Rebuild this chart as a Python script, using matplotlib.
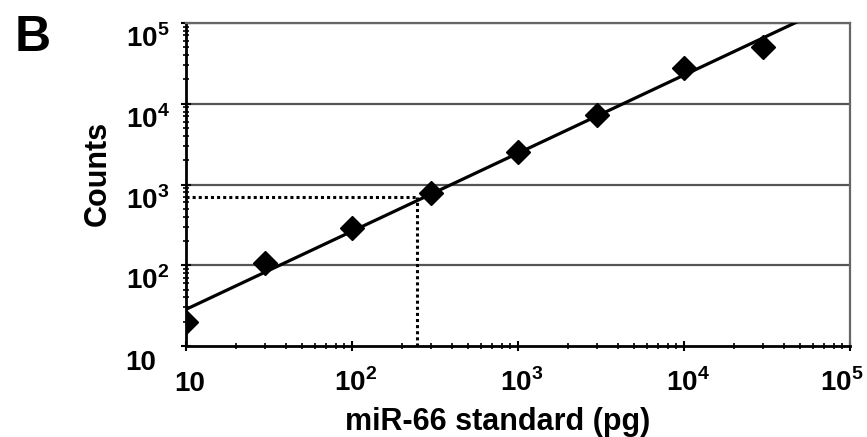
import numpy as np
import matplotlib.pyplot as plt
import matplotlib.transforms as mtransforms
from matplotlib.ticker import LogLocator, NullFormatter

plt.rcParams['font.family'] = ['Liberation Sans', 'DejaVu Sans']
plt.rcParams['font.weight'] = 'bold'
plt.rcParams['mathtext.fontset'] = 'custom'
plt.rcParams['mathtext.rm'] = 'Liberation Sans:bold'
plt.rcParams['mathtext.bf'] = 'Liberation Sans:bold'

# standard curve (pg vs counts)
standard_pg = [10, 30, 100, 300, 1000, 3000, 10000, 30000]
counts = [20, 107, 290, 780, 2520, 7200, 27500, 50000]

# unknown sample
sample_pg = 245
sample_counts = 700

tick_vals = [10, 100, 1000, 10000, 100000]
tick_labels = ['10', r'$10^{2}$', r'$10^{3}$', r'$10^{4}$', r'$10^{5}$']

# log-log linear fit
slope, icpt = np.polyfit(np.log10(standard_pg), np.log10(counts), 1)
fit_x = np.logspace(1, 5, 200)
fit_y = 10 ** (icpt + slope * np.log10(fit_x))

fig = plt.figure(figsize=(8.67, 4.37), dpi=100)
ax = fig.add_axes([0.2145, 0.2082, 0.766, 0.7392])

for v in tick_vals[1:]:
    ax.axhline(v, color='#555555', lw=1.6, zorder=1)

ax.plot(fit_x, fit_y, color='black', lw=2.3, zorder=3)
ax.plot(standard_pg, counts, 'D', color='black', ms=12, zorder=4)

# dotted read-off lines
ax.plot([10, sample_pg], [sample_counts, sample_counts], color='black', lw=2.2,
        linestyle=(0, (1, 1)), zorder=2)
ax.plot([sample_pg, sample_pg], [10, sample_counts], color='black', lw=2.2,
        linestyle=(0, (1, 1)), zorder=2)

ax.set_xscale('log')
ax.set_yscale('log')
ax.set_xlim(10, 1e5)
ax.set_ylim(10, 1e5)

ax.set_xticks(tick_vals)
ax.set_xticklabels(tick_labels, fontsize=20)
ax.set_yticks(tick_vals)
ax.set_yticklabels(tick_labels, fontsize=20)
ax.xaxis.set_minor_locator(LogLocator(base=10, subs=np.arange(2, 10)))
ax.yaxis.set_minor_locator(LogLocator(base=10, subs=np.arange(2, 10)))
ax.xaxis.set_minor_formatter(NullFormatter())
ax.yaxis.set_minor_formatter(NullFormatter())

ax.tick_params(axis='both', which='major', direction='inout', length=7, width=1.5)
ax.tick_params(axis='both', which='minor', direction='inout', length=5, width=1.2)
ax.tick_params(axis='y', which='major', pad=40)
ax.tick_params(axis='x', which='major', pad=6)

# tick labels sit with their baseline well below the tick, as in the figure
for lbl in ax.get_yticklabels():
    lbl.set_ha('left')
    lbl.set_va('baseline')
    lbl.set_transform(lbl.get_transform() +
                      mtransforms.ScaledTranslation(0, -0.24, fig.dpi_scale_trans))
for i, lbl in enumerate(ax.get_xticklabels()):
    lbl.set_va('baseline')
    dx = 0.04
    if i == len(tick_vals) - 1:
        lbl.set_ha('right')
        dx = 0.13
    lbl.set_transform(lbl.get_transform() +
                      mtransforms.ScaledTranslation(dx, -0.32, fig.dpi_scale_trans))

for s in ['left', 'bottom']:
    ax.spines[s].set_linewidth(2)
    ax.spines[s].set_color('black')
for s in ['right', 'top']:
    ax.spines[s].set_linewidth(1.6)
    ax.spines[s].set_color('#666666')

ax.set_xlabel('miR-66 standard (pg)', fontsize=22, fontweight='bold')
ax.xaxis.set_label_coords(0.47, -0.189)
ax.set_ylabel('Counts', fontsize=22, fontweight='bold')
ax.yaxis.set_label_coords(-0.111, 0.535)

fig.text(0.017, 0.966, 'B', fontsize=36, fontweight='bold', va='top', ha='left')

fig.savefig('out.png', dpi=100, facecolor='white')
